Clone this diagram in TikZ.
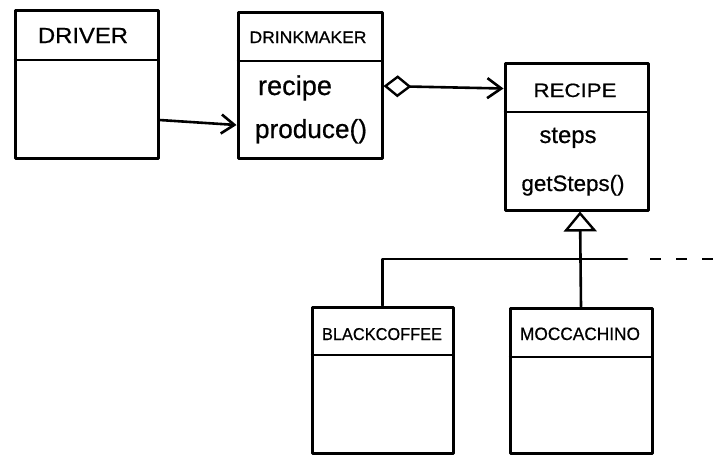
\documentclass[tikz,border=0pt]{standalone}
\usepackage{fontspec}
\setmainfont{Liberation Sans}
\newfontfamily\hand[FakeBold=0.6]{Liberation Sans}
\usepackage{graphicx}
\usetikzlibrary{arrows.meta}
\tikzset{
  cls/.style={draw, line width=3pt, inner sep=0pt, line join=round},
  div/.style={line width=2.6pt},
  conn/.style={line width=2.6pt, line cap=round},
  label/.style={anchor=base, inner sep=0pt, font=\hand},
  barb/.style={-{Straight Barb[length=13pt,width=19pt,line width=2.6pt]}},
}
\newcommand{\capsname}[3]{\resizebox{#1}{#2}{#3}}
\newcommand{\member}[2]{\resizebox{#1}{!}{#2}}
\begin{document}
\begin{tikzpicture}[x=1pt,y=-1pt]
\useasboundingbox (0,0) rectangle (717,456);

% class boxes
\node[cls, minimum width=143pt, minimum height=148pt] (driver) at (86.5,84) {};
\node[cls, minimum width=144pt, minimum height=146pt] (maker)  at (310,85) {};
\node[cls, minimum width=143pt, minimum height=147pt] (recipe) at (576.5,136.5) {};
\node[cls, minimum width=141pt, minimum height=146pt] (black)  at (382.5,380) {};
\node[cls, minimum width=142pt, minimum height=145pt] (mocca)  at (581,380.5) {};

% compartment dividers
\draw[div] (driver.west |- 0,60) -- (driver.east |- 0,60);
\draw[div] (maker.west |- 0,61) -- (maker.east |- 0,61);
\draw[div] (recipe.west |- 0,112) -- (recipe.east |- 0,112);
\draw[div] (black.west |- 0,355) -- (black.east |- 0,355);
\draw[div] (mocca.west |- 0,357) -- (mocca.east |- 0,357);

% class names
\node[label] (tdriver) at (83,43)  {\capsname{90pt}{15pt}{DRIVER}};
\node[label] (tmaker)  at (308,43) {\capsname{117pt}{11.5pt}{DRINKMAKER}};
\node[label] (trecipe) at (575,97) {\capsname{83pt}{13.5pt}{RECIPE}};
\node[label] (tblack)  at (382,340) {\capsname{120pt}{12pt}{BLACKCOFFEE}};
\node[label] (tmocca)  at (580,340) {\capsname{120pt}{12.5pt}{MOCCACHINO}};

% members
\node[label] (mrecipe)  at (295,95)  {\member{74pt}{recipe}};
\node[label] (mproduce) at (311,138) {\member{112pt}{produce()}};
\node[label] (msteps)   at (568,143) {\member{57pt}{steps}};
\node[label] (mget)     at (573,191) {\member{103pt}{getSteps()}};

% association: driver uses drinkmaker
\draw[conn, barb] ([yshift=-36pt]driver.east) -- ([yshift=-40pt]maker.west);

% aggregation: drinkmaker holds a recipe
\draw[conn, {Diamond[open,length=28pt,width=22pt,line width=2.4pt]}-{Straight Barb[length=14pt,width=20pt,line width=2.6pt]}]
  ([yshift=-1pt]maker.east) -- ([yshift=48pt]recipe.west);

% generalisation tree
\coordinate (busend)  at (627,259);
\coordinate (dashbeg) at (650,259);
\coordinate (dashend) at (713,259);
\draw[conn, line join=round] (black.north) -- (black.north |- busend) -- (busend);
\draw[conn, -{Triangle[open,length=20pt,width=33pt,line width=2.4pt]}]
  (mocca.north) -- ([xshift=-1pt]mocca.north |- recipe.south);
\draw[conn, dash pattern=on 11pt off 15pt, line cap=butt] (dashbeg) -- (dashend);
\end{tikzpicture}
\end{document}
